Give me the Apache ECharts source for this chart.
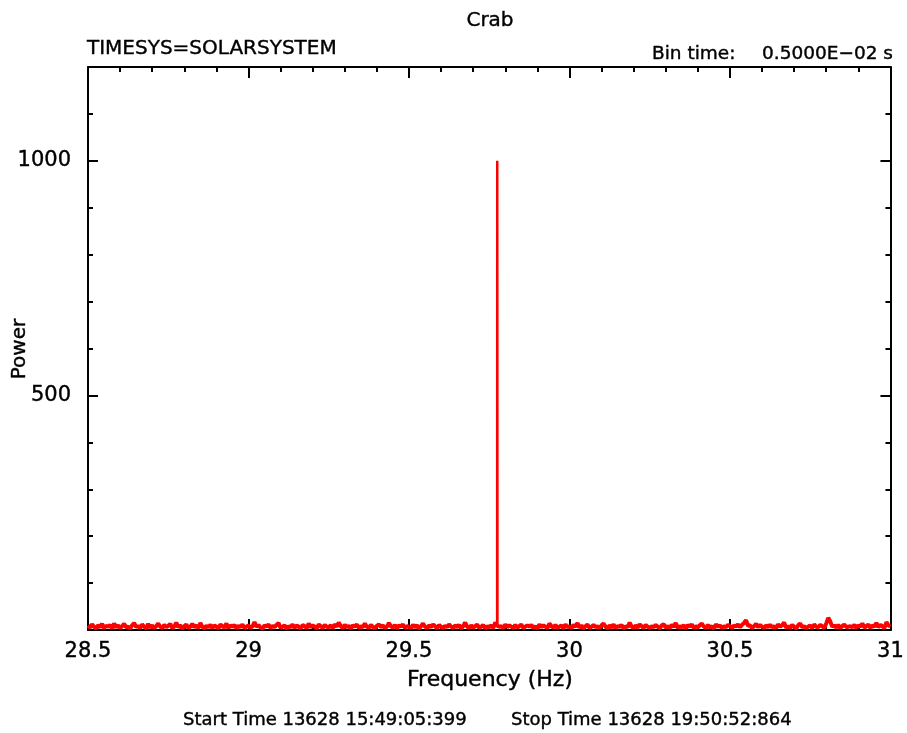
<!DOCTYPE html>
<html>
<head>
<meta charset="utf-8">
<title>Crab power spectrum</title>
<script src="https://cdn.jsdelivr.net/npm/echarts@6/dist/echarts.min.js"></script>
<style>
  html, body { margin: 0; padding: 0; background: #ffffff; }
  #chart { width: 907px; height: 733px; }
</style>
</head>
<body>
<div id="chart"></div>
<script>
// Frequency grid of the power spectrum (Hz)
const freqStart = 28.5;
const freqStep = 0.00625;

// Power per frequency bin, 28.5 Hz .. 31 Hz (401 bins)
const power = [
  9,5,12,7,3,10,6,13,4,9,7,11,3,14,6,10,4,8,13,6,
  7,3,10,15,6,9,4,12,7,3,13,5,10,4,8,14,7,4,11,6,
  9,13,4,7,16,6,10,3,8,12,4,7,13,6,10,4,15,7,3,9,
  6,11,4,10,7,3,12,8,5,14,4,10,7,11,3,9,6,12,4,7,
  10,4,8,17,7,11,5,3,10,7,12,4,9,6,11,15,4,7,10,3,
  8,6,12,4,10,7,3,11,8,4,14,6,10,7,3,12,8,4,11,7,
  6,10,4,12,7,16,8,4,11,6,9,3,10,7,12,4,8,6,14,7,
  4,11,7,3,9,12,6,10,4,7,15,8,5,11,3,10,7,12,4,8,
  7,4,11,6,10,3,8,14,7,4,10,6,12,8,3,11,7,4,9,6,
  12,7,4,10,6,11,3,8,16,7,4,10,5,8,12,4,7,11,3,8,
  6,10,4,16,9,7,8,4,12,6,10,7,4,11,5,8,12,4,7,10,
  7,11,4,8,3,12,6,10,7,4,14,8,5,11,4,7,10,3,12,6,
  8,4,11,7,15,5,10,3,8,12,4,7,11,6,8,4,10,14,7,3,
  10,5,12,4,8,7,11,3,8,6,16,7,4,10,5,12,8,4,11,7,
  4,8,6,11,7,3,10,12,5,8,4,11,7,15,4,8,6,10,3,11,
  7,12,4,8,6,10,14,7,4,11,5,8,3,12,7,10,4,8,6,11,
  8,4,10,7,12,6,11,15,21,9,10,4,8,13,6,11,7,4,10,6,
  11,6,8,4,12,7,10,16,5,8,4,11,7,3,10,14,6,8,4,7,
  10,4,12,7,6,11,8,4,14,26,18,7,10,5,11,4,8,12,6,7,
  8,6,11,4,10,7,14,5,8,12,4,10,7,15,6,11,8,4,17,10,
  7
];

// Pulsar fundamental: the few fine bins around the peak
const pulseFreq = [29.7747, 29.7750, 29.7753, 29.7756];
const pulsePower = [8, 1000, 580, 7];

// Axis ranges and labelled ticks
const xMin = 28.5, xMax = 31, xMajor = 0.5;
const yMin = 0, yMax = 1200, yMajor = 500, yMinor = 100;
const yLabels = [500, 1000];

const noiseData = power.map((p, i) => [freqStart + i * freqStep, p]);
const pulseData = pulseFreq.map((f, i) => [f, pulsePower[i]]);

const FONT = 'DejaVu Sans';
const black = '#000000';
const red = '#ff0000';

const chart = echarts.init(document.getElementById('chart'), null, { renderer: 'canvas' });

const xCommon = {
  type: 'value', min: xMin, max: xMax, interval: xMajor,
  splitLine: { show: false },
  axisLine: { show: true, onZero: false, lineStyle: { color: black, width: 2 } },
  axisTick: { show: true, inside: true, length: 11, lineStyle: { color: black, width: 2 } },
  minorTick: { show: true, splitNumber: 5, length: 5, lineStyle: { color: black, width: 2 } },
  minorSplitLine: { show: false }
};

const labelStyle = {
  color: black, fontFamily: FONT, fontSize: 21,
  textBorderColor: black, textBorderWidth: 0.4
};

function yAxisDef(pos, interval, tickLen, showLabel, showLine) {
  return {
    type: 'value', position: pos, min: yMin, max: yMax, interval: interval,
    splitLine: { show: false },
    axisLine: { show: showLine, onZero: false, lineStyle: { color: black, width: 2 } },
    axisTick: { show: true, inside: true, length: tickLen, lineStyle: { color: black, width: 2 } },
    axisLabel: Object.assign({}, labelStyle, {
      show: showLabel, margin: 17,
      formatter: v => (yLabels.indexOf(v) >= 0 ? String(v) : '')
    })
  };
}

function txt(text, size) {
  return { text: text, font: size + 'px ' + FONT, fill: black, stroke: black, lineWidth: 0.4 };
}

chart.setOption({
  animation: false,
  backgroundColor: '#ffffff',
  grid: { left: 88, top: 67, width: 805, height: 563 },
  xAxis: [
    Object.assign({}, xCommon, {
      position: 'bottom',
      axisLabel: Object.assign({}, labelStyle, {
        show: true, margin: 11,
        formatter: v => String(Math.round(v * 10) / 10)
      })
    }),
    Object.assign({}, xCommon, { position: 'top', axisLabel: { show: false } })
  ],
  yAxis: [
    yAxisDef('left', yMajor, 10, true, true),
    yAxisDef('left', yMinor, 5, false, false),
    yAxisDef('right', yMajor, 10, false, true),
    yAxisDef('right', yMinor, 5, false, false)
  ],
  series: [
    {
      name: 'noise',
      type: 'line', xAxisIndex: 0, yAxisIndex: 0,
      data: noiseData, showSymbol: false, clip: false,
      lineStyle: { color: red, width: 4 }, itemStyle: { color: red }, z: 5
    },
    {
      name: 'pulse',
      type: 'line', xAxisIndex: 0, yAxisIndex: 0,
      data: pulseData, showSymbol: false, clip: false,
      lineStyle: { color: red, width: 2.5 }, itemStyle: { color: red }, z: 6
    }
  ],
  graphic: [
    { type: 'text', x: 490, y: 21, style: Object.assign(txt('Crab', 20), { textAlign: 'center', textVerticalAlign: 'middle' }) },
    { type: 'text', x: 87, y: 49, style: Object.assign(txt('TIMESYS=SOLARSYSTEM', 20), { textAlign: 'left', textVerticalAlign: 'middle' }) },
    { type: 'text', x: 652, y: 54, style: Object.assign(txt('Bin time:', 18.5), { textAlign: 'left', textVerticalAlign: 'middle' }) },
    { type: 'text', x: 893, y: 54, style: Object.assign(txt('0.5000E\u221202 s', 18.5), { textAlign: 'right', textVerticalAlign: 'middle' }) },
    { type: 'text', x: 490, y: 680, style: Object.assign(txt('Frequency (Hz)', 22), { textAlign: 'center', textVerticalAlign: 'middle' }) },
    { type: 'text', x: 20, y: 349, rotation: Math.PI / 2, style: Object.assign(txt('Power', 20), { textAlign: 'center', textVerticalAlign: 'middle' }) },
    { type: 'text', x: 183, y: 720, style: Object.assign(txt('Start Time 13628 15:49:05:399', 18), { textAlign: 'left', textVerticalAlign: 'middle' }) },
    { type: 'text', x: 511, y: 720, style: Object.assign(txt('Stop Time 13628 19:50:52:864', 18), { textAlign: 'left', textVerticalAlign: 'middle' }) }
  ]
});
</script>
</body>
</html>
